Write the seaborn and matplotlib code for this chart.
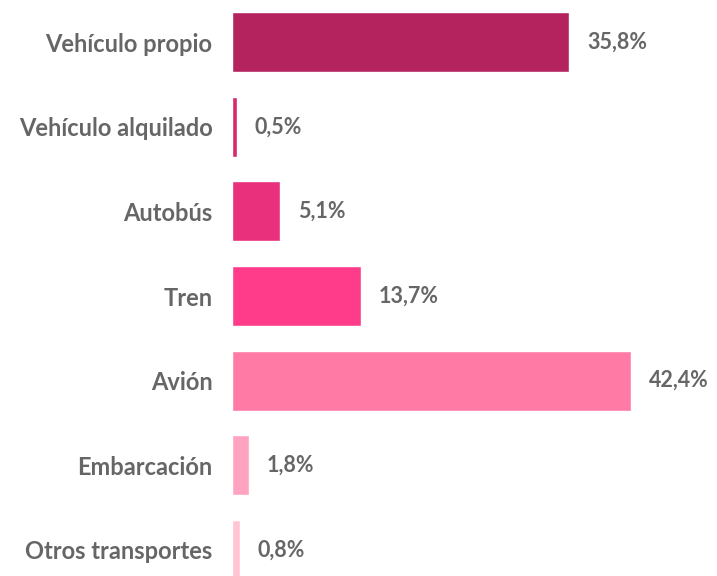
import pandas as pd
import seaborn as sns
import matplotlib.pyplot as plt

categories = ["Vehículo propio", "Vehículo alquilado", "Autobús", "Tren",
              "Avión", "Embarcación", "Otros transportes"]
values = [35.8, 0.5, 5.1, 13.7, 42.4, 1.8, 0.8]
labels = ["35,8%", "0,5%", "5,1%", "13,7%", "42,4%", "1,8%", "0,8%"]
colors = ["#B5235F", "#D42A6F", "#E8307C", "#FF3C8A",
          "#FF7BA5", "#FFA3C0", "#FFC5D5"]


def main():
    sns.set_theme(style="white")
    plt.rcParams['font.family'] = ['Lato', 'DejaVu Sans']
    df = pd.DataFrame({"modo": categories, "pct": values})

    fig = plt.figure(figsize=(7.17, 5.76), dpi=100)
    ax = fig.add_axes([232 / 717, 0, 1 - 232 / 717, 1])
    sns.barplot(data=df, x="pct", y="modo", hue="modo", palette=colors,
                legend=False, width=0.71, saturation=1, ax=ax)

    # value labels to the right of each bar
    for i, (v, lab) in enumerate(zip(values, labels)):
        ax.annotate(lab, (v, i), xytext=(13, 0), textcoords="offset points",
                    va="center", ha="left", fontsize=15.5, color="#666666",
                    fontweight="bold")

    ax.set_xlim(0, 51.5)
    ax.set_ylim(6.31, -0.5)
    ax.set_xlabel("")
    ax.set_ylabel("")
    ax.set_xticks([])
    ax.tick_params(axis="y", length=0, pad=14)
    for t in ax.get_yticklabels():
        t.set_fontsize(17)
        t.set_color("#666666")
        t.set_fontweight("bold")
    sns.despine(ax=ax, left=True, bottom=True)
    fig.savefig("out.png", dpi=100)


if __name__ == '__main__':
    main()
